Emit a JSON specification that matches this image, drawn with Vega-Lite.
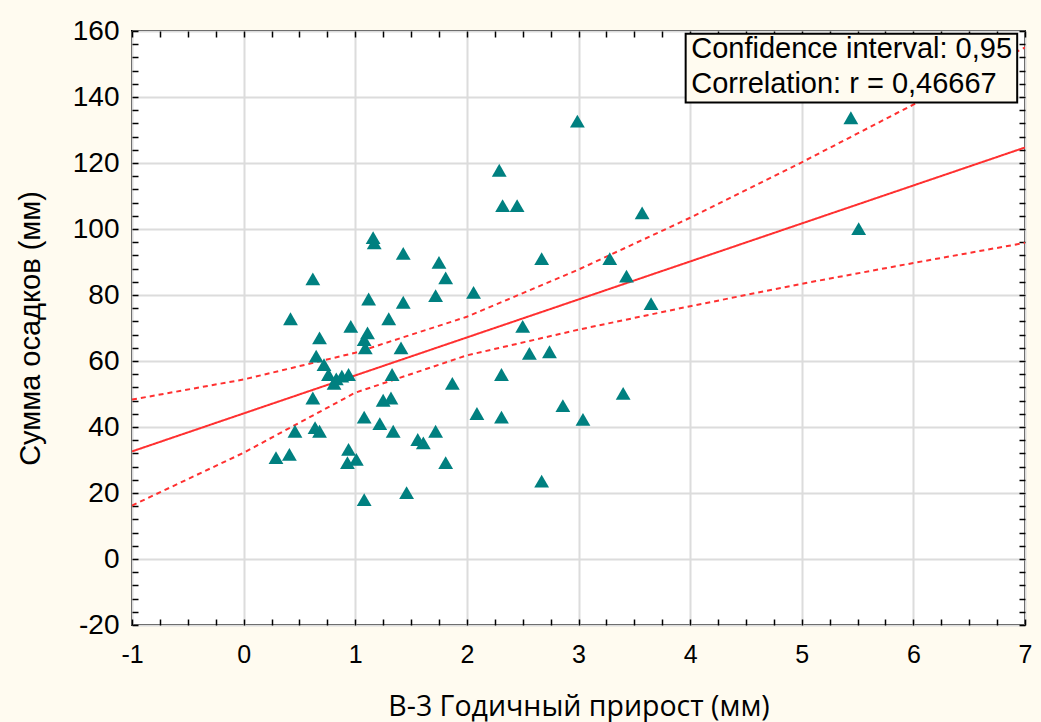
{
  "$schema": "https://vega.github.io/schema/vega-lite/v6.json",
  "width": 893,
  "height": 594,
  "autosize": "none",
  "padding": {"left": 132, "top": 31, "right": 16, "bottom": 97},
  "background": "#fffbf0",
  "config": {"view": {"fill": "white", "stroke": "black", "strokeWidth": 2}},
  "datasets": {
    "pts": [
      {"x": 1.16, "y": 97.4}, {"x": 1.17, "y": 95.8}, {"x": 1.43, "y": 92.6}, {"x": 1.75, "y": 89.9},
      {"x": 1.81, "y": 85.2}, {"x": 0.62, "y": 84.9}, {"x": 1.72, "y": 79.8}, {"x": 2.06, "y": 80.8},
      {"x": 1.12, "y": 78.8}, {"x": 1.43, "y": 77.8}, {"x": 0.42, "y": 72.8}, {"x": 1.30, "y": 72.8},
      {"x": 0.96, "y": 70.5}, {"x": 0.68, "y": 67.0}, {"x": 1.11, "y": 68.5}, {"x": 1.08, "y": 66.5},
      {"x": 1.09, "y": 64.0}, {"x": 1.41, "y": 64.0}, {"x": 0.65, "y": 61.5}, {"x": 0.72, "y": 58.9},
      {"x": 0.76, "y": 55.9}, {"x": 0.83, "y": 54.6}, {"x": 0.88, "y": 55.4}, {"x": 0.81, "y": 53.2},
      {"x": 0.94, "y": 55.9}, {"x": 1.33, "y": 55.9}, {"x": 0.62, "y": 48.8}, {"x": 1.25, "y": 48.1},
      {"x": 1.32, "y": 48.8}, {"x": 1.87, "y": 53.2}, {"x": 2.31, "y": 55.9}, {"x": 1.08, "y": 43.0},
      {"x": 1.22, "y": 41.0}, {"x": 2.09, "y": 44.1}, {"x": 2.31, "y": 43.0}, {"x": 0.46, "y": 38.7},
      {"x": 0.64, "y": 39.8}, {"x": 0.68, "y": 38.7}, {"x": 1.34, "y": 38.7}, {"x": 1.72, "y": 38.7},
      {"x": 1.56, "y": 36.2}, {"x": 1.61, "y": 35.2}, {"x": 0.29, "y": 30.7}, {"x": 0.41, "y": 31.7},
      {"x": 0.94, "y": 33.2}, {"x": 1.01, "y": 30.2}, {"x": 0.93, "y": 29.2}, {"x": 1.81, "y": 29.2},
      {"x": 1.46, "y": 20.1}, {"x": 1.08, "y": 18.0}, {"x": 2.50, "y": 70.5}, {"x": 2.56, "y": 62.3},
      {"x": 2.74, "y": 62.8}, {"x": 2.99, "y": 132.7}, {"x": 2.29, "y": 117.8}, {"x": 2.32, "y": 107.1},
      {"x": 2.45, "y": 107.1}, {"x": 3.57, "y": 104.9}, {"x": 2.67, "y": 91.0}, {"x": 3.28, "y": 91.0},
      {"x": 3.43, "y": 85.7}, {"x": 3.65, "y": 77.4}, {"x": 3.40, "y": 50.2}, {"x": 2.86, "y": 46.5},
      {"x": 3.04, "y": 42.3}, {"x": 2.67, "y": 23.6}, {"x": 5.44, "y": 133.7}, {"x": 5.51, "y": 100.1}
    ],
    "lines": [
      {"x": -1, "v": 32.6, "series": "fit"}, {"x": 7, "v": 124.7, "series": "fit"},
      {"x": -1, "v": 48.3, "series": "hi"}, {"x": 0, "v": 54.4, "series": "hi"}, {"x": 1, "v": 62.5, "series": "hi"},
      {"x": 2, "v": 73.4, "series": "hi"}, {"x": 3, "v": 87.7, "series": "hi"}, {"x": 4, "v": 103.4, "series": "hi"},
      {"x": 5, "v": 120.2, "series": "hi"}, {"x": 6, "v": 137.7, "series": "hi"}, {"x": 7, "v": 155.0, "series": "hi"},
      {"x": -1, "v": 16.2, "series": "lo"}, {"x": 0, "v": 32.2, "series": "lo"}, {"x": 1, "v": 50.4, "series": "lo"},
      {"x": 2, "v": 61.7, "series": "lo"}, {"x": 3, "v": 69.5, "series": "lo"}, {"x": 4, "v": 76.6, "series": "lo"},
      {"x": 5, "v": 83.4, "series": "lo"}, {"x": 6, "v": 89.7, "series": "lo"}, {"x": 7, "v": 95.8, "series": "lo"}
    ]
  },
  "layer": [
    {
      "layer": [
        {
          "data": {"name": "lines"},
          "mark": {"type": "line", "color": "#ff3030", "strokeWidth": 2, "clip": true},
          "encoding": {
            "x": {"field": "x", "type": "quantitative", "scale": {"domain": [-1, 7], "nice": false, "zero": false},
              "title": "В-3 Годичный прирост (мм)",
              "axis": {
                "orient": "bottom", "tickCount": 500,
                "values": [-1,-0.75,-0.5,-0.25,0,0.25,0.5,0.75,1,1.25,1.5,1.75,2,2.25,2.5,2.75,3,3.25,3.5,3.75,4,4.25,4.5,4.75,5,5.25,5.5,5.75,6,6.25,6.5,6.75,7],
                "labelExpr": "indexof([-1,0,1,2,3,4,5,6,7], datum.value) >= 0 ? ('' + datum.value) : ''",
                "grid": true, "gridColor": "#dcdcdc", "gridWidth": 2,
                "gridOpacity": {"condition": {"test": "indexof([-1,0,1,2,3,4,5,6,7], datum.value) >= 0", "value": 1}, "value": 0},
                "domain": false, "ticks": true, "tickSize": -6, "tickColor": "black", "tickWidth": 1.5,
                "labelFont": "Liberation Sans", "labelFontSize": 25, "labelColor": "black", "labelPadding": 23,
                "labelFlush": false, "labelOverlap": false,
                "titleFont": "Open Sans", "titleFontSize": 28.5, "titleFontWeight": "normal", "titleColor": "black", "titlePadding": 25
              }
            },
            "y": {"field": "v", "type": "quantitative", "scale": {"domain": [-20, 160], "nice": false, "zero": false},
              "title": "Сумма осадков (мм)",
              "axis": {
                "orient": "left", "tickCount": 500,
                "values": [-20,-16,-12,-8,-4,0,4,8,12,16,20,24,28,32,36,40,44,48,52,56,60,64,68,72,76,80,84,88,92,96,100,104,108,112,116,120,124,128,132,136,140,144,148,152,156,160],
                "labelExpr": "indexof([-20,0,20,40,60,80,100,120,140,160], datum.value) >= 0 ? ('' + datum.value) : ''",
                "grid": true, "gridColor": "#dcdcdc", "gridWidth": 2,
                "gridOpacity": {"condition": {"test": "indexof([-20,0,20,40,60,80,100,120,140,160], datum.value) >= 0", "value": 1}, "value": 0},
                "domain": false, "ticks": true, "tickSize": -6, "tickColor": "black", "tickWidth": 1.5,
                "labelFont": "Liberation Sans", "labelFontSize": 28, "labelColor": "black", "labelPadding": 19,
                "labelFlush": false, "labelOverlap": false,
                "titleFont": "Liberation Sans", "titleFontSize": 29, "titleFontWeight": "normal", "titleColor": "black", "titlePadding": 27
              }
            },
            "detail": {"field": "series"},
            "strokeDash": {"field": "series", "type": "nominal", "scale": {"domain": ["fit", "hi", "lo"], "range": [[1, 0], [5, 4], [5, 4]]}, "legend": null}
          }
        },
        {
          "data": {"name": "pts"},
          "mark": {"type": "point", "shape": "triangle-up", "filled": true, "color": "#008080", "size": 220, "opacity": 1},
          "encoding": {
            "x": {"field": "x", "type": "quantitative", "title": "В-3 Годичный прирост (мм)"},
            "y": {"field": "y", "type": "quantitative", "title": "Сумма осадков (мм)"}
          }
        },
        {
          "data": {"values": [{"box": "legend"}]},
          "mark": {"type": "rect", "fill": "#fffbf0", "stroke": "black", "strokeWidth": 2},
          "encoding": {
            "x": {"datum": 3.96, "type": "quantitative"},
            "x2": {"datum": 6.93},
            "y": {"datum": 159.2, "type": "quantitative"},
            "y2": {"datum": 138.3}
          }
        },
        {
          "data": {"values": [{"label": "Confidence interval: 0,95"}]},
          "mark": {"type": "text", "align": "left", "baseline": "middle", "font": "Liberation Sans", "fontSize": 29, "color": "black"},
          "encoding": {
            "x": {"datum": 4.01, "type": "quantitative"},
            "y": {"datum": 154.4, "type": "quantitative"},
            "text": {"field": "label"}
          }
        },
        {
          "data": {"values": [{"label": "Correlation: r = 0,46667"}]},
          "mark": {"type": "text", "align": "left", "baseline": "middle", "font": "Liberation Sans", "fontSize": 29, "color": "black"},
          "encoding": {
            "x": {"datum": 4.01, "type": "quantitative"},
            "y": {"datum": 143.8, "type": "quantitative"},
            "text": {"field": "label"}
          }
        }
      ]
    },
    {
      "data": {"name": "lines"},
      "mark": {"type": "point", "opacity": 0},
      "encoding": {
        "x": {"field": "x", "type": "quantitative",
          "axis": {"orient": "top", "title": null, "labels": false, "grid": false, "domain": false, "tickCount": 500,
            "values": [-1,-0.75,-0.5,-0.25,0,0.25,0.5,0.75,1,1.25,1.5,1.75,2,2.25,2.5,2.75,3,3.25,3.5,3.75,4,4.25,4.5,4.75,5,5.25,5.5,5.75,6,6.25,6.5,6.75,7],
            "tickSize": -6, "tickColor": "black", "tickWidth": 1.5}},
        "y": {"field": "v", "type": "quantitative",
          "axis": {"orient": "right", "title": null, "labels": false, "grid": false, "domain": false, "tickCount": 500,
            "values": [-20,-16,-12,-8,-4,0,4,8,12,16,20,24,28,32,36,40,44,48,52,56,60,64,68,72,76,80,84,88,92,96,100,104,108,112,116,120,124,128,132,136,140,144,148,152,156,160],
            "tickSize": -6, "tickColor": "black", "tickWidth": 1.5}}
      }
    }
  ],
  "resolve": {"axis": {"x": "independent", "y": "independent"}}
}
